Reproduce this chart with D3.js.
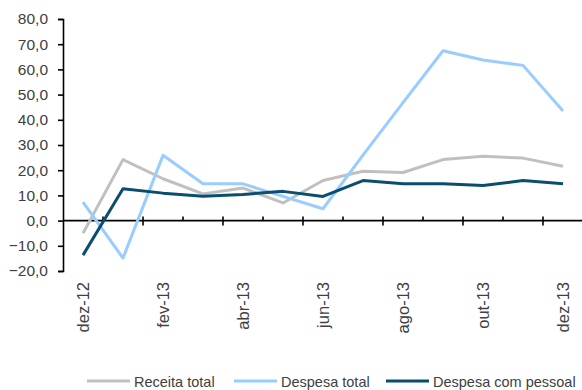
<!DOCTYPE html>
<html>
<head>
<meta charset="utf-8">
<script src="https://cdn.jsdelivr.net/npm/d3@7/dist/d3.min.js"></script>
<style>
  html, body { margin: 0; padding: 0; background: #fff; }
  svg { display: block; }
  text { font-family: "Liberation Sans", Arial, sans-serif; fill: #404040; }
</style>
</head>
<body>
<svg id="chart" width="582" height="390"></svg>
<script>
// Monthly categories (Dec 2012 – Dec 2013)
const months = ["dez-12", "jan-13", "fev-13", "mar-13", "abr-13", "mai-13", "jun-13",
                "jul-13", "ago-13", "set-13", "out-13", "nov-13", "dez-13"];

// Series values (%)
const receitaTotal   = [-5.0, 24.2, 16.6, 10.6, 12.9, 7.0, 15.9, 19.6, 19.1, 24.2, 25.5, 24.8, 21.6];
const despesaTotal   = [7.3, -14.9, 25.9, 14.6, 14.6, 9.6, 4.7, 26.0, 46.8, 67.4, 63.7, 61.6, 43.5];
const despesaPessoal = [-13.7, 12.6, 10.9, 9.7, 10.4, 11.6, 9.6, 15.9, 14.6, 14.6, 13.9, 15.9, 14.6];

// Axis ticks
const yTicks = [-20, -10, 0, 10, 20, 30, 40, 50, 60, 70, 80];

const seriesNames  = ["Receita total", "Despesa total", "Despesa com pessoal"];
const seriesColors = ["#c0c0c0", "#99ccff", "#0b4d6e"];
const seriesData   = [receitaTotal, despesaTotal, despesaPessoal];

const svg = d3.select("#chart");

const x = d3.scaleBand().domain(months).range([63, 583]).padding(0);
const y = d3.scaleLinear().domain([-20, 80]).range([271, 19]);

const locale = d3.formatLocale({ decimal: ",", thousands: ".", grouping: [3], currency: ["R$", ""] });
const fmt = locale.format(".1f");

// Y axis
const yAxis = svg.append("g")
  .attr("transform", "translate(63,0)")
  .call(d3.axisLeft(y).tickValues(yTicks).tickSize(5).tickPadding(10).tickFormat(fmt));
yAxis.select(".domain").attr("stroke", "#000").attr("stroke-width", 1.6);
yAxis.selectAll(".tick line").attr("stroke", "#000").attr("stroke-width", 1.6);
yAxis.selectAll(".tick text")
  .style("font-size", "15.5px")
  .attr("fill", "#404040");

// X axis along zero, with tick marks on category boundaries
const xAxis = svg.append("g");
xAxis.append("line")
  .attr("x1", x.range()[0]).attr("x2", x.range()[1])
  .attr("y1", y(0)).attr("y2", y(0))
  .attr("stroke", "#000").attr("stroke-width", 1.6);

const boundaries = months.map((m, i) => ({ pos: x(m), i })).slice(1)
  .concat([{ pos: x.range()[1], i: months.length }]);
xAxis.selectAll(".bt").data(boundaries).join("line")
  .attr("class", "bt")
  .attr("x1", d => d.pos).attr("x2", d => d.pos)
  .attr("y1", y(0) - 4)
  .attr("y2", d => d.i % 2 === 0 ? y(0) + 5 : y(0))
  .attr("stroke", "#000").attr("stroke-width", 1.6);

// Category labels (every other month), rotated
xAxis.selectAll(".xl").data(months.filter((m, i) => i % 2 === 0)).join("text")
  .attr("class", "xl")
  .attr("transform", d => `translate(${x(d) + x.bandwidth() / 2 + 6},282) rotate(-90)`)
  .attr("text-anchor", "end")
  .style("font-size", "16.5px")
  .text(d => d);

// Lines
const line = d3.line()
  .x((d, i) => x(months[i]) + x.bandwidth() / 2)
  .y(d => y(d));

svg.append("g").selectAll("path").data(seriesData).join("path")
  .attr("d", d => line(d))
  .attr("fill", "none")
  .attr("stroke", (d, i) => seriesColors[i])
  .attr("stroke-width", 3)
  .attr("stroke-linejoin", "round");

// Legend
const legendX = [87, 234, 386];
const legend = svg.append("g");
seriesNames.forEach((name, i) => {
  const g = legend.append("g").attr("transform", `translate(${legendX[i]},381)`);
  g.append("line").attr("x1", 0).attr("x2", 43).attr("y1", 0).attr("y2", 0)
    .attr("stroke", seriesColors[i]).attr("stroke-width", 3);
  g.append("text").attr("x", 47).attr("y", 5.5)
    .style("font-size", "14.5px")
    .text(name);
});
</script>
</body>
</html>
